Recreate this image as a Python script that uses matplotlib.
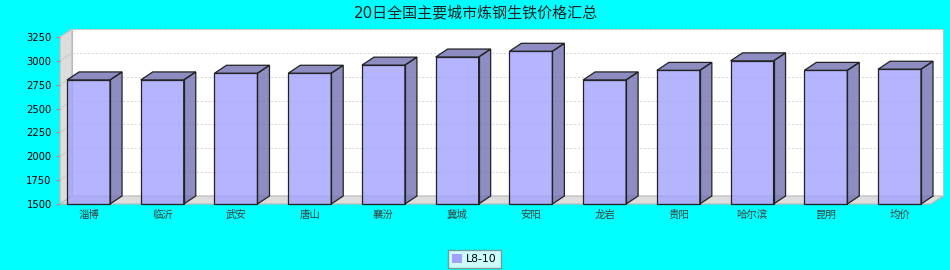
import matplotlib
matplotlib.use('Agg')
import matplotlib.pyplot as plt
from matplotlib.patches import Polygon, Rectangle, Patch

plt.rcParams['font.family'] = ['DejaVu Sans', 'Noto Sans CJK SC']

# 数据
cities = ['淄博', '临沂', '武安', '唐山', '襄汾', '冀城', '安阳', '龙岩', '贵阳', '哈尔滨', '昆明', '均价']
prices = [2800, 2800, 2870, 2870, 2955, 3040, 3100, 2800, 2900, 3000, 2900, 2912]
series_name = 'L8-10'
title = '20日全国主要城市炼钢生铁价格汇总'
y_ticks = [1500, 1750, 2000, 2250, 2500, 2750, 3000, 3250]

W, H = 950, 270
bg = '#00FFFF'
front_col = (161/255, 161/255, 1.0)
dark_col = (113/255, 113/255, 178/255)

fig = plt.figure(figsize=(W/100, H/100), dpi=100, facecolor=bg)
# front plot area in pixels: x 60..931, y 37..204
ax = fig.add_axes([60/W, (H-204)/H, 871/W, 167/H])
ax.set_facecolor('none')
for s in ax.spines.values():
    s.set_visible(False)

xmin, xmax = -0.387, 11.427
ymin, ymax = 1500, 3250
ax.set_xlim(xmin, xmax)
ax.set_ylim(ymin, ymax)

# 3D depth offset (12px right, 8px up) in data units
dx = 12 / (871 / (xmax - xmin))
dy = 8 / (167 / (ymax - ymin))

# back wall
ax.add_patch(Rectangle((xmin + dx, ymin + dy), xmax - xmin, ymax - ymin,
                       facecolor='white', edgecolor='#C0C0C0', lw=0.8, clip_on=False, zorder=1))
# left wall
ax.add_patch(Polygon([(xmin, ymin), (xmin, ymax), (xmin + dx, ymax + dy), (xmin + dx, ymin + dy)],
                     closed=True, facecolor='#DDDDDD', edgecolor='#B8B8B8', lw=0.8, clip_on=False, zorder=1))
# floor
ax.add_patch(Polygon([(xmin, ymin), (xmin + dx, ymin + dy), (xmax + dx, ymin + dy), (xmax, ymin)],
                     closed=True, facecolor='#DDDDDD', edgecolor='#B8B8B8', lw=0.8, clip_on=False, zorder=1))

# gridlines
for v in y_ticks[1:]:
    ax.plot([xmin + dx, xmax + dx], [v + dy, v + dy], color='#D4D4D4', lw=0.7,
            dashes=(2, 2), clip_on=False, zorder=2)
    ax.plot([xmin, xmin + dx], [v, v + dy], color='#C8C8C8', lw=0.6, clip_on=False, zorder=2)

# bars
w = 43 / 73.75
for i, v in enumerate(prices):
    l, r = i - w/2, i + w/2
    ax.add_patch(Rectangle((l, ymin), w, v - ymin, facecolor=front_col, alpha=0.8,
                           edgecolor='none', zorder=3, clip_on=False))
    ax.add_patch(Rectangle((l, ymin), w, v - ymin, facecolor='none',
                           edgecolor='#222222', lw=0.9, zorder=4, clip_on=False))
    side = [(r, ymin), (r + dx, ymin + dy), (r + dx, v + dy), (r, v)]
    top = [(l, v), (l + dx, v + dy), (r + dx, v + dy), (r, v)]
    for pts in (side, top):
        ax.add_patch(Polygon(pts, closed=True, facecolor=dark_col, alpha=0.8,
                             edgecolor='none', zorder=3, clip_on=False))
        ax.add_patch(Polygon(pts, closed=True, facecolor='none',
                             edgecolor='#222222', lw=0.9, zorder=4, clip_on=False))

ax.set_yticks(y_ticks)
ax.set_yticklabels([str(t) for t in y_ticks])
ax.tick_params(axis='y', direction='out', length=3, width=0.8, color='#C08080',
               labelsize=7.2, pad=3, labelcolor='black')
ax.set_xticks(range(len(cities)))
ax.set_xticklabels(cities)
ax.tick_params(axis='x', length=0, labelsize=7.5, pad=4, labelcolor='#404040')

fig.text(475.5/W, 1 - 12.5/H, title, ha='center', va='center', fontsize=10.8, color='#202020')

leg = fig.legend(handles=[Patch(facecolor=front_col, edgecolor='none')], labels=[series_name],
                 loc='center', bbox_to_anchor=(474.5/W, 11/H), fontsize=7.8, frameon=True,
                 fancybox=False, handlelength=0.9, handleheight=0.9, handletextpad=0.4,
                 borderpad=0.35, borderaxespad=0)
leg.get_frame().set_edgecolor('#808080')
leg.get_frame().set_linewidth(1.0)

fig.savefig('out.png', dpi=100, facecolor=bg)
